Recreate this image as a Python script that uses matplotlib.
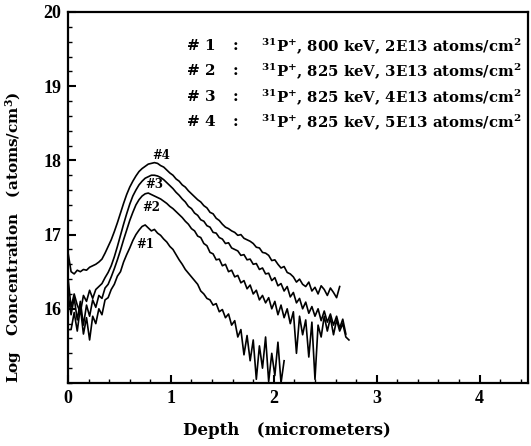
import numpy as np
import matplotlib
matplotlib.use("Agg")
import matplotlib.pyplot as plt
from matplotlib.ticker import MultipleLocator

plt.rcParams['font.family'] = ['Liberation Serif', 'DejaVu Serif']
plt.rcParams['font.weight'] = 'bold'
plt.rcParams['mathtext.default'] = 'regular'
WIDE = ['DejaVu Serif']

# sampling grid of depth (micrometers), 0.03 um step
depth = np.round(np.arange(0, 2.76, 0.03), 2)

# Log concentration
curve1 = [15.72, 15.72, 15.95, 15.70, 16.02, 15.66, 15.88, 15.58, 15.90, 15.80,
          16.00, 15.92, 16.12, 16.15, 16.26, 16.33, 16.44, 16.50, 16.63, 16.73,
          16.82, 16.92, 17.00, 17.06, 17.11, 17.13, 17.09, 17.05, 17.07, 17.02,
          16.99, 16.94, 16.90, 16.84, 16.80, 16.73, 16.66, 16.60, 16.53, 16.48,
          16.43, 16.38, 16.33, 16.24, 16.20, 16.14, 16.12, 16.05, 16.07, 15.96,
          15.99, 15.88, 15.93, 15.78, 15.84, 15.62, 15.72, 15.38, 15.64, 15.30,
          15.58, 15.05, 15.50, 15.20, 15.62, 15.02, 15.40, 15.10, 15.55, 15.00,
          15.30]

curve2 = [16.20, 15.92, 16.15, 15.85, 16.10, 15.78, 16.05, 15.90, 16.12, 16.02,
          16.18, 16.14, 16.28, 16.33, 16.43, 16.54, 16.66, 16.79, 16.93, 17.06,
          17.19, 17.30, 17.40, 17.47, 17.52, 17.55, 17.56, 17.54, 17.52, 17.50,
          17.48, 17.45, 17.42, 17.38, 17.35, 17.31, 17.27, 17.23, 17.18, 17.14,
          17.08, 17.05, 16.98, 16.96, 16.88, 16.85, 16.76, 16.74, 16.66, 16.67,
          16.58, 16.60, 16.50, 16.52, 16.43, 16.45, 16.35, 16.38, 16.27, 16.32,
          16.20, 16.25, 16.12, 16.18, 16.08, 16.15, 16.00, 16.10, 15.92, 16.05,
          15.88, 16.00, 15.80, 15.96, 15.40, 15.90, 15.65, 15.85, 15.35, 15.82,
          15.05, 15.78, 15.62, 15.90, 15.70, 15.88, 15.65, 15.85, 15.70, 15.80,
          15.62, 15.58]

curve3 = [16.42, 16.02, 16.20, 16.05, 15.95, 16.18, 16.10, 16.25, 16.14, 16.26,
          16.30, 16.34, 16.42, 16.49, 16.58, 16.70, 16.84, 16.99, 17.14, 17.28,
          17.41, 17.52, 17.60, 17.67, 17.72, 17.76, 17.78, 17.80, 17.80, 17.79,
          17.77, 17.74, 17.70, 17.66, 17.62, 17.57, 17.53, 17.48, 17.44, 17.38,
          17.35, 17.29, 17.26, 17.20, 17.18, 17.12, 17.10, 17.03, 17.02, 16.96,
          16.94, 16.88, 16.89, 16.82, 16.80, 16.78, 16.72, 16.73, 16.66, 16.67,
          16.60, 16.61, 16.53, 16.55, 16.47, 16.48, 16.38, 16.42, 16.31, 16.34,
          16.24, 16.30, 16.16, 16.22, 16.08, 16.14, 16.00, 16.09, 15.94, 16.03,
          15.90, 16.00, 15.84, 15.97, 15.82, 15.93, 15.78, 15.90, 15.74, 15.86,
          15.66]

curve4 = [16.76, 16.50, 16.47, 16.52, 16.50, 16.53, 16.52, 16.56, 16.58, 16.60,
          16.63, 16.67, 16.75, 16.84, 16.93, 17.04, 17.16, 17.29, 17.42, 17.54,
          17.64, 17.72, 17.79, 17.85, 17.89, 17.92, 17.95, 17.96, 17.97, 17.96,
          17.93, 17.91, 17.87, 17.83, 17.80, 17.75, 17.72, 17.67, 17.64, 17.59,
          17.55, 17.51, 17.47, 17.44, 17.39, 17.36, 17.30, 17.28, 17.22, 17.19,
          17.14, 17.10, 17.08, 17.05, 17.03, 16.99, 17.00, 16.95, 16.93, 16.91,
          16.88, 16.83, 16.82, 16.76, 16.75, 16.72, 16.65, 16.66, 16.60, 16.55,
          16.57, 16.49, 16.47, 16.43, 16.36, 16.40, 16.33, 16.30, 16.36, 16.24,
          16.29, 16.20, 16.31, 16.26, 16.18, 16.28, 16.22, 16.15, 16.30]

curves = [curve1, curve2, curve3, curve4]
curve_tags = ['#1', '#2', '#3', '#4']
tag_pos = [(0.75, 16.87), (0.81, 17.37), (0.84, 17.67), (0.91, 18.07)]

legend_ids = ['# 1', '# 2', '# 3', '# 4']
legend_texts = [r'$^{31}$P$^{+}$, 800 keV, 2E13 atoms/cm$^{2}$',
                r'$^{31}$P$^{+}$, 825 keV, 3E13 atoms/cm$^{2}$',
                r'$^{31}$P$^{+}$, 825 keV, 4E13 atoms/cm$^{2}$',
                r'$^{31}$P$^{+}$, 825 keV, 5E13 atoms/cm$^{2}$']
legend_rows = [19.54, 19.20, 18.85, 18.52]

xticks = [0, 1, 2, 3, 4]
yticks = [16, 17, 18, 19, 20]

fig = plt.figure(figsize=(5.31, 4.46), dpi=100)
ax = fig.add_axes([68/531, 63/446, 460/531, 371/446])

for y in curves:
    ax.plot(depth[:len(y)], y, color='black', lw=1.2)

for tag, (tx, ty) in zip(curve_tags, tag_pos):
    ax.text(tx, ty, tag, fontsize=8.5, fontweight='bold', family=WIDE,
            ha='center', va='center')

for lid, txt, ry in zip(legend_ids, legend_texts, legend_rows):
    ax.text(1.155, ry, lid, fontsize=11, fontweight='bold', family=WIDE,
            ha='left', va='center')
    ax.text(1.60, ry, ':', fontsize=11, fontweight='bold', family=WIDE,
            ha='left', va='center')
    ax.text(1.88, ry, txt, fontsize=10.7, fontweight='bold', family=WIDE,
            ha='left', va='center')

ax.set_xlim(0, 4.47)
ax.set_ylim(15, 20)
ax.set_xticks(xticks)
ax.set_yticks(yticks)
ax.xaxis.set_minor_locator(MultipleLocator(0.2))
ax.yaxis.set_minor_locator(MultipleLocator(0.2))
ax.tick_params(which='both', direction='in', top=False, right=False)
ax.tick_params(which='major', length=6, width=1.5, labelsize=13, pad=5)
ax.tick_params(which='minor', length=3, width=1)
for s in ax.spines.values():
    s.set_linewidth(1.6)

ax.set_xlabel('Depth   (micrometers)', fontsize=12, fontweight='bold', family=WIDE)
ax.xaxis.set_label_coords(0.476, -0.105)
ax.set_ylabel('Log   Concentration   (atoms/cm$^{3}$)', fontsize=11,
              fontweight='bold', family=WIDE)
ax.yaxis.set_label_coords(-0.095, 0.393)

fig.savefig('out.png', dpi=100)
